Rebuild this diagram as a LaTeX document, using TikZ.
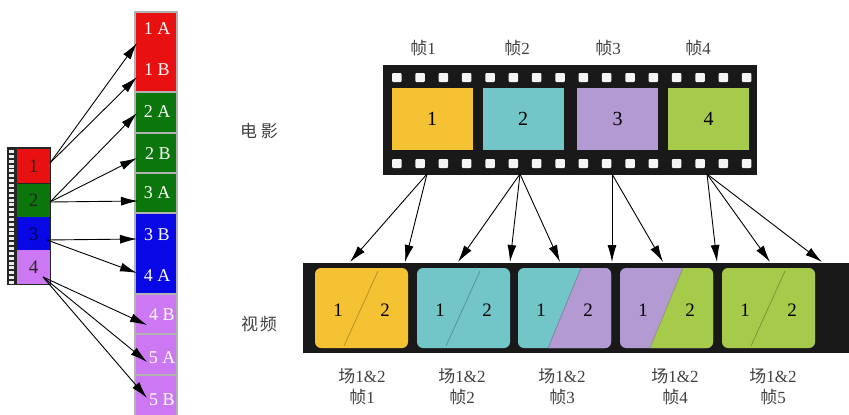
\documentclass[tikz,border=0pt]{standalone}
\usepackage{fontspec}
\setmainfont{Liberation Serif}
\newfontfamily\cjk{Noto Sans CJK SC}
\usetikzlibrary{arrows.meta}
\definecolor{lred}{HTML}{E81010}
\definecolor{lgreen}{HTML}{0B760B}
\definecolor{lblue}{HTML}{0808E6}
\definecolor{lviolet}{HTML}{CC78F2}
\definecolor{fyel}{HTML}{F4C232}
\definecolor{fteal}{HTML}{72C6C8}
\definecolor{fpur}{HTML}{B39AD2}
\definecolor{fgrn}{HTML}{A6CA4A}
\definecolor{cgray}{HTML}{404040}
\begin{document}
\begin{tikzpicture}[x=1pt,y=-1pt,
  arr/.style={-{Latex[length=17pt,width=9pt]}, line width=0.9pt, black},
  lcell/.style={minimum width=33pt, minimum height=33.5pt, inner sep=0pt, font=\fontsize{19}{19}\selectfont, text=black!85},
  rcell/.style={draw=gray!60, line width=1.5pt, minimum width=42pt, inner sep=0pt},
  rlab/.style={text=white, font=\fontsize{18}{18}\selectfont, inner sep=1pt},
  fframe/.style={minimum width=81pt, minimum height=62pt, inner sep=0pt, font=\fontsize{20}{20}\selectfont},
  vframe/.style={minimum width=93pt, minimum height=80pt, inner sep=0pt, rounded corners=6pt},
  vdig/.style={font=\fontsize{19}{19}\selectfont, inner sep=0pt},
  lab/.style={text=cgray, font=\fontsize{17}{21}\selectfont, inner sep=0pt, align=center},
  diag/.style={line width=0.8pt}]
\useasboundingbox (0,0) rectangle (849,415);

% ---------- left film strip ----------
\fill[black!85] (7,147) rectangle (51,285);
\foreach \i in {0,...,27} \fill[white!85!gray] (9,{150+\i*4.85}) rectangle ++(5,3);
\node[lcell, fill=lred]    (L1) at (33.5,166) {1};
\node[lcell, fill=lgreen]  (L2) at (33.5,200.5) {2};
\node[lcell, fill=lblue, text=blue!30!black]   (L3) at (33.5,234) {3};
\node[lcell, fill=lviolet] (L4) at (33.5,267) {4};

% ---------- right column ----------
\node[rcell, fill=lred,    minimum height=80pt] (R1)  at (156,52) {};
\node[rcell, fill=lgreen,  minimum height=41pt] (R2A) at (156,112.5) {};
\node[rcell, fill=lgreen,  minimum height=40pt] (R2B) at (156,153) {};
\node[rcell, fill=lgreen,  minimum height=40pt] (R3A) at (156,193) {};
\node[rcell, fill=lblue,   minimum height=81pt] (R3)  at (156,253.5) {};
\node[rcell, fill=lviolet, minimum height=40pt] (R4B) at (156,314) {};
\node[rcell, fill=lviolet, minimum height=41pt] (R5A) at (156,354.5) {};
\node[rcell, fill=lviolet, minimum height=43pt] (R5B) at (156,396.5) {};
\node[rlab] (t1A) at (157,29) {1 A};
\node[rlab] (t1B) at (157,70) {1 B};
\node[rlab] (t2A) at (157,112) {2 A};
\node[rlab] (t2B) at (158,154) {2 B};
\node[rlab] (t3A) at (157,193) {3 A};
\node[rlab] (t3B) at (157,235) {3 B};
\node[rlab] (t4A) at (157,276) {4 A};
\node[rlab] (t4B) at (162,315) {4 B};
\node[rlab] (t5A) at (162,358) {5 A};
\node[rlab] (t5B) at (162,400) {5 B};

\coordinate (s1) at (50,163);
\coordinate (s2) at (50,202);
\coordinate (s3) at (47,240);
\coordinate (s4) at (43,277);
\coordinate (e1A) at (137,43);
\coordinate (e1B) at (137,77);
\coordinate (e2A) at (137,113);
\coordinate (e2B) at (137,158);
\coordinate (e3A) at (138,201);
\coordinate (e3B) at (137,239);
\coordinate (e4A) at (137,273);
\coordinate (e4B) at (147,325);
\coordinate (e5A) at (147,362);
\coordinate (e5B) at (147,398);
\draw[arr] (s1) -- (e1A);
\draw[arr] (s1) -- (e1B);
\draw[arr] (s2) -- (e2A);
\draw[arr] (s2) -- (e2B);
\draw[arr] (s2) -- (e3A);
\draw[arr] (s3) -- (e3B);
\draw[arr] (s3) -- (e4A);
\draw[arr] (s4) -- (e4B);
\draw[arr] (s4) -- (e5A);
\draw[arr] (s4) -- (e5B);

% ---------- film strip ----------
\node[fill=black!90, minimum width=374pt, minimum height=110pt, inner sep=0pt] (film) at (570,120) {};
\foreach \i in {0,...,15} {
  \fill[white!92!gray, rounded corners=1pt] ({392+\i*23.33},73) rectangle ++(9.5,9);
  \fill[white!92!gray, rounded corners=1pt] ({392+\i*23.33},159) rectangle ++(9.5,9);
}
\node[fframe, fill=fyel]  (F1) at (432,119) {1};
\node[fframe, fill=fteal] (F2) at (523,119) {2};
\node[fframe, fill=fpur]  (F3) at (617.5,119) {3};
\node[fframe, fill=fgrn]  (F4) at (708.5,119) {4};
\node[lab] (h1) at (423,48) {{\cjk 帧}1};
\node[lab] (h2) at (517,48) {{\cjk 帧}2};
\node[lab] (h3) at (608,48) {{\cjk 帧}3};
\node[lab] (h4) at (698,48) {{\cjk 帧}4};
\node[lab] (movie) at (259,131) {\cjk 电\hspace{4pt}影};
\node[lab] (video) at (259,324) {\cjk 视\hspace{2pt}频};

% ---------- video strip ----------
\node[fill=black!90, minimum width=548pt, minimum height=90pt, inner sep=0pt] (vstrip) at (577,308) {};
\node[vframe, fill=fyel]  (V1) at (361.5,308) {};
\node[vframe, fill=fteal] (V2) at (463.5,308) {};
\node[vframe, fill=fteal] (V3) at (564.5,308) {};
\node[vframe, fill=fpur]  (V4) at (666.5,308) {};
\node[vframe, fill=fgrn]  (V5) at (768.5,308) {};
\begin{scope}
  \clip[rounded corners=6pt] (518,268) rectangle (611,348);
  \fill[fpur] (548,348) -- (581,268) -- (611,268) -- (611,348) -- cycle;
\end{scope}
\begin{scope}
  \clip[rounded corners=6pt] (620,268) rectangle (713,348);
  \fill[fgrn] (650,348) -- (683,268) -- (713,268) -- (713,348) -- cycle;
\end{scope}
\draw[diag, fyel!75!black]  (344,346) -- (378,271);
\draw[diag, fteal!75!black] (446,346) -- (480,271);
\draw[diag, fpur!70!fteal!80!black] (548,348) -- (581,268);
\draw[diag, fgrn!60!fpur!85!black] (650,348) -- (683,268);
\draw[diag, fgrn!75!black]  (751,346) -- (785,271);
\foreach \n/\x in {V1/315, V2/417, V3/518, V4/620, V5/722} {
  \node[vdig] (\n a) at ({\x+23},310) {1};
  \node[vdig] (\n b) at ({\x+70},310) {2};
}
\node[lab] (b1) at (362,387) {{\cjk 场}1\&2\\{\cjk 帧}1};
\node[lab] (b2) at (462,387) {{\cjk 场}1\&2\\{\cjk 帧}2};
\node[lab] (b3) at (562,387) {{\cjk 场}1\&2\\{\cjk 帧}3};
\node[lab] (b4) at (675,387) {{\cjk 场}1\&2\\{\cjk 帧}4};
\node[lab] (b5) at (773,387) {{\cjk 场}1\&2\\{\cjk 帧}5};

% ---------- film -> video arrows ----------
\coordinate (f1) at (427,174);
\coordinate (f2) at (520,174);
\coordinate (f3) at (612,174);
\coordinate (f4) at (707,174);
\foreach \s/\x in {f1/350, f1/405, f2/458, f2/510, f2/560, f3/612, f3/663, f4/717, f4/770, f4/822} {
  \draw[arr] (\s) -- (\x,262);
}
\end{tikzpicture}
\end{document}
